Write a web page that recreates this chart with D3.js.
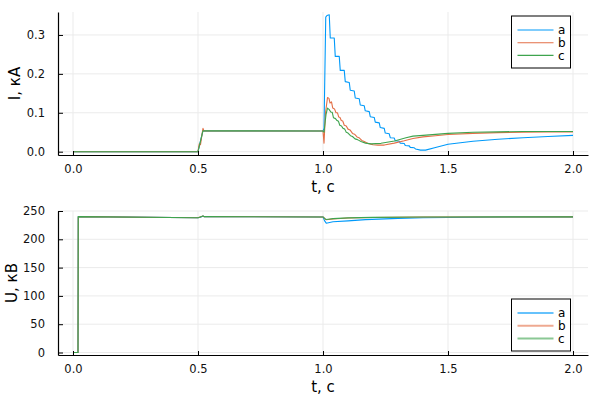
<!DOCTYPE html>
<html><head><meta charset="utf-8">
<script src="https://cdn.jsdelivr.net/npm/d3@7"></script>
<style>body{margin:0;background:#fff}svg{display:block;font-family:"DejaVu Sans",sans-serif}</style>
</head><body><svg id="c" width="600" height="400"></svg>
<script>
const seriesNames = ["a", "b", "c"];
const seriesColors = ["#009AFA", "#E36F47", "#3EA44E"];
const xTicks = [0, 0.5, 1.0, 1.5, 2.0];
const xTickLabels = ["0.0", "0.5", "1.0", "1.5", "2.0"];
const iTicks = [0, 0.1, 0.2, 0.3];
const iTickLabels = ["0.0", "0.1", "0.2", "0.3"];
const uTicks = [0, 50, 100, 150, 200, 250];
const uTickLabels = ["0", "50", "100", "150", "200", "250"];

// current, kA : [t, value]
const currentA = [[0,0],[0.5,0],[0.52,0.055],[0.524,0.053],[1.0,0.053],[1.004,0.06],[1.011,0.346],[1.016,0.35],[1.025,0.352],
  [1.029,0.292],[1.045,0.292],[1.049,0.245],[1.065,0.245],[1.069,0.209],[1.085,0.209],[1.089,0.180],[1.105,0.178],
  [1.109,0.158],[1.125,0.156],[1.129,0.138],[1.145,0.136],[1.149,0.120],[1.165,0.118],[1.169,0.105],[1.185,0.103],
  [1.189,0.090],[1.205,0.088],[1.209,0.076],[1.225,0.074],[1.229,0.062],[1.245,0.060],[1.249,0.048],[1.265,0.046],
  [1.269,0.036],[1.285,0.035],[1.289,0.028],[1.305,0.027],[1.309,0.022],[1.325,0.021],[1.329,0.016],[1.345,0.015],
  [1.349,0.011],[1.365,0.010],[1.37,0.007],[1.39,0.004],[1.41,0.004],[1.45,0.011],[1.5,0.019],[1.55,0.023],
  [1.6,0.027],[1.7,0.032],[1.8,0.036],[1.9,0.039],[2.0,0.042]];
const currentB = [[0,0],[0.5,0],[0.505,0.02],[0.51,0.018],[0.515,0.04],[0.52,0.06],[0.524,0.053],[1.0,0.053],[1.004,0.022],
  [1.01,0.1],[1.018,0.139],[1.024,0.137],[1.028,0.125],[1.034,0.128],[1.039,0.112],[1.046,0.110],[1.052,0.100],
  [1.058,0.100],[1.063,0.089],[1.068,0.088],[1.073,0.080],[1.079,0.079],[1.085,0.068],[1.093,0.066],[1.1,0.058],
  [1.108,0.056],[1.118,0.047],[1.126,0.045],[1.136,0.038],[1.144,0.036],[1.155,0.029],[1.165,0.026],[1.18,0.021],
  [1.2,0.018],[1.22,0.017],[1.245,0.017],[1.285,0.022],[1.325,0.028],[1.36,0.034],[1.4,0.038],[1.45,0.041],
  [1.5,0.044],[1.6,0.047],[1.7,0.049],[1.8,0.050],[1.9,0.051],[2.0,0.051]];
const currentC = [[0,0],[0.5,0],[0.52,0.054],[1.0,0.053],[1.004,0.05],[1.012,0.095],[1.018,0.112],[1.025,0.108],
  [1.031,0.102],[1.037,0.101],[1.042,0.087],[1.05,0.085],[1.056,0.080],[1.062,0.078],[1.067,0.068],[1.074,0.066],
  [1.08,0.060],[1.087,0.058],[1.093,0.050],[1.1,0.048],[1.11,0.041],[1.118,0.039],[1.128,0.033],[1.138,0.031],
  [1.152,0.026],[1.17,0.022],[1.192,0.020],[1.232,0.0215],[1.286,0.0275],[1.332,0.036],[1.36,0.040],[1.4,0.042],
  [1.5,0.047],[1.6,0.050],[1.7,0.051],[1.8,0.052],[1.9,0.052],[2.0,0.052]];

// voltage, kV : [t, value]
const voltageA = [[0,0],[0.02,0],[0.021,240],[0.5,238],[0.51,239],[0.52,241],[0.525,240],[1.0,239.5],[1.006,233],
  [1.013,228.5],[1.04,231],[1.1,232.5],[1.17,234.7],[1.3,237],[1.4,238],[1.6,239],[1.8,239.5],[2.0,239.7]];
const voltageB = [[0,0],[0.02,0],[0.021,240],[0.5,238],[0.52,241],[0.525,240],[1.0,239.5],[1.008,236],[1.013,234.5],
  [1.04,236],[1.1,237.5],[1.2,238.5],[1.4,239.3],[2.0,239.7]];
const voltageC = [[0,0],[0.02,0],[0.021,240],[0.5,238],[0.52,241],[0.525,240],[1.0,239.5],[1.008,236.5],[1.013,235],
  [1.04,236.5],[1.1,237.8],[1.2,238.7],[1.4,239.4],[2.0,239.7]];

const svg = d3.select("#c");
const L = 58, R = 588;
const xDomain = [-0.06, 2.06];

function panel(opt) {
  const x = d3.scaleLinear().domain(xDomain).range([L, R]);
  const y = d3.scaleLinear().domain(opt.yDomain).range([opt.bottom, opt.top]);
  const g = svg.append("g");
  g.selectAll(".gx").data(xTicks).enter().append("line")
    .attr("x1", d => x(d)).attr("x2", d => x(d)).attr("y1", opt.top).attr("y2", opt.bottom)
    .attr("stroke", "#ebebeb").attr("stroke-width", 1);
  g.selectAll(".gy").data(opt.yTicks).enter().append("line")
    .attr("x1", L).attr("x2", R).attr("y1", d => y(d)).attr("y2", d => y(d))
    .attr("stroke", "#ebebeb").attr("stroke-width", 1);
  const line = d3.line().x(d => x(d[0])).y(d => y(d[1]));
  opt.series.forEach((s, i) => {
    g.append("path").attr("d", line(s)).attr("fill", "none")
      .attr("stroke", seriesColors[i]).attr("stroke-width", 1.1).attr("stroke-linejoin", "round");
  });
  const xAxis = d3.axisBottom(x).tickValues(xTicks).tickFormat((d, i) => xTickLabels[i]).tickSizeInner(-4).tickSizeOuter(0).tickPadding(10);
  const gx = g.append("g").attr("transform", `translate(0,${opt.bottom})`).call(xAxis);
  const yAxis = d3.axisLeft(y).tickValues(opt.yTicks).tickFormat((d, i) => opt.yLabels[i]).tickSizeInner(-5).tickSizeOuter(0).tickPadding(13);
  const gy = g.append("g").attr("transform", `translate(${L},0)`).call(yAxis);
  [gx, gy].forEach(a => {
    a.select(".domain").attr("stroke", "#000").attr("stroke-width", 1.2);
    a.selectAll(".tick line").attr("stroke", "#000");
    a.selectAll(".tick text").attr("fill", "#111").style("font-size", "11.5px").style("font-family", "DejaVu Sans, sans-serif");
  });
  g.append("text").attr("x", (L + R) / 2).attr("y", opt.bottom + 37).attr("text-anchor", "middle")
    .style("font-size", "15px").attr("fill", "#000").text("t, с");
  g.append("text").attr("transform", `translate(${opt.ylabelX},${(opt.top + opt.bottom) / 2}) rotate(-90)`)
    .attr("text-anchor", "middle").style("font-size", "15px").attr("fill", "#000").text(opt.ylabel);
  const lg = g.append("g").attr("transform", `translate(511.5,${opt.legendTop})`);
  lg.append("rect").attr("width", 59).attr("height", 52).attr("fill", "#fff").attr("stroke", "#000").attr("stroke-width", 1);
  seriesNames.forEach((n, i) => {
    const yy = 14 + i * 12.7;
    lg.append("line").attr("x1", 6).attr("x2", 42).attr("y1", yy).attr("y2", yy)
      .attr("stroke", seriesColors[i]).attr("stroke-width", opt.legendW).attr("stroke-opacity", opt.legendOp);
    lg.append("text").attr("x", 46.5).attr("y", yy).attr("dy", "0.35em").style("font-size", "12px").attr("fill", "#000").text(n);
  });
}

panel({top: 12, bottom: 155, yDomain: [-0.0085, 0.359], yTicks: iTicks, yLabels: iTickLabels,
  ylabel: "I, кА", ylabelX: 19.5, series: [currentA, currentB, currentC], legendTop: 16, legendW: 1.1, legendOp: 1});
panel({top: 211, bottom: 355, yDomain: [-4.4, 250], yTicks: uTicks, yLabels: uTickLabels,
  ylabel: "U, кВ", ylabelX: 16.5, series: [voltageA, voltageB, voltageC], legendTop: 299, legendW: 2, legendOp: 0.6});
</script></body></html>
